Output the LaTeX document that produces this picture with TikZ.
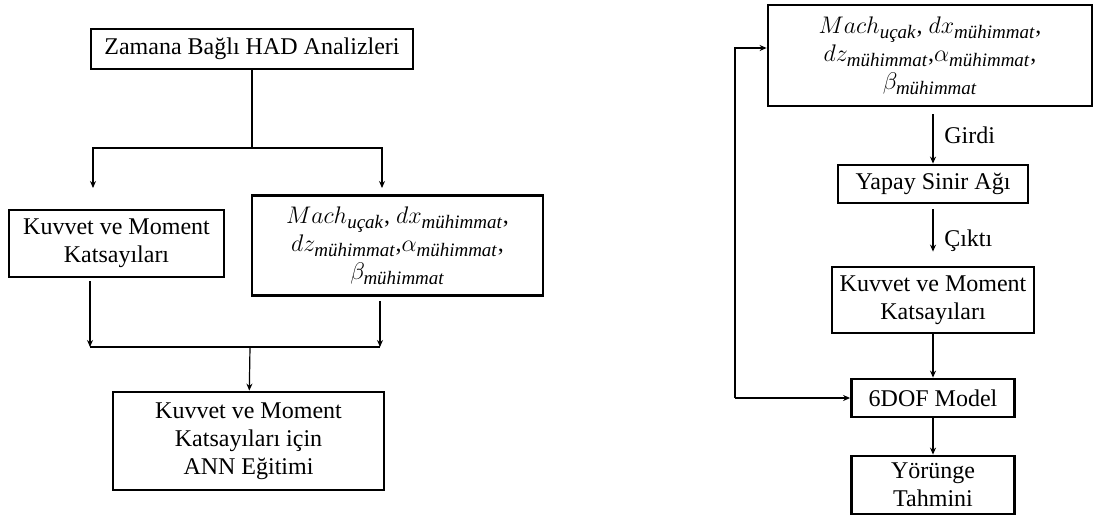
\documentclass[tikz,border=0pt]{standalone}
\usepackage{amsmath}
\usepackage{fontspec}
\setmainfont{Liberation Serif}
\usetikzlibrary{arrows.meta}
\DeclareMathSizes{12}{12.5}{9.5}{7}

\newcommand{\muh}{\textit{mühimmat}}

\tikzset{
  kutu/.style={draw, line width=1.4pt, align=center, inner sep=2pt},
  ok/.style={-{Stealth[length=3.5pt,width=3pt]}, line width=0.6pt},
  cizgi/.style={line width=0.6pt},
}

\begin{document}
\begin{tikzpicture}[x=0.5pt,y=-0.5pt, font=\fontsize{12}{14}\selectfont]
\useasboundingbox (0,0) rectangle (1093,526);

%% Sol taraf: egitim
\node[kutu, minimum width=161pt, minimum height=20pt] (had) at (252,49) {Zamana Bağlı HAD Analizleri};
\node[kutu, minimum width=107.5pt, minimum height=33.5pt] (kuvL) at (116.5,243.5) {Kuvvet ve Moment\\Katsayıları};
\node[kutu, minimum width=145.5pt, minimum height=50pt] (parL) at (397.5,245.5)
  {$Mach_{\textit{uçak}}$, $dx_{\muh}$,\\ $dz_{\muh}$,$\alpha_{\muh}$,\\ $\beta_{\muh}$};
\node[kutu, minimum width=135.5pt, minimum height=49pt] (ann) at (248.5,441) {Kuvvet ve Moment\\Katsayıları için\\ANN Eğitimi};

\coordinate (ayrim) at (252,148);
\coordinate (solgir) at (93,188);
\coordinate (saggir) at (382,188);
\coordinate (solcik) at (90,347);
\coordinate (sagcik) at (380,347);
\coordinate (birles) at (250,347);

\draw[cizgi] (had) -- (ayrim);
\draw[ok] (ayrim) -| (solgir);
\draw[ok] (ayrim) -| (saggir);
\draw[ok, shorten <=1.5pt] (kuvL.south -| solcik) -- (solcik);
\draw[ok, shorten <=2pt] (parL.south -| sagcik) -- (sagcik);
\draw[cizgi] (solcik) -- (sagcik);
\draw[ok] (birles) -- (ann);

%% Sag taraf: tahmin
\node[kutu, minimum width=162pt, minimum height=50.5pt] (parR) at (930,55.5)
  {$Mach_{\textit{uçak}}$, $dx_{\muh}$,\\ $dz_{\muh}$,$\alpha_{\muh}$,\\ $\beta_{\muh}$};
\node[kutu, minimum width=95pt, minimum height=19pt] (ysa) at (933,184) {Yapay Sinir Ağı};
\node[kutu, minimum width=101pt, minimum height=33pt] (kuvR) at (933,300) {Kuvvet ve Moment\\Katsayıları};
\node[kutu, minimum width=81.5pt, minimum height=19pt] (dof) at (933,398) {6DOF Model};
\node[kutu, minimum width=81.5pt, minimum height=29pt] (yor) at (933,485) {Yörünge\\Tahmini};

\draw[ok, shorten <=3.5pt] (parR.south -| ysa.north) -- node[right, xshift=2pt] {Girdi} (ysa);
\draw[ok, shorten <=2.5pt, shorten >=7pt] (ysa) -- node[right, xshift=2pt, pos=0.6] {Çıktı} (kuvR);
\draw[ok] (kuvR) -- (dof);
\draw[ok] (dof) -- (yor);

%% Geri besleme
\coordinate (geri) at (735,398);
\coordinate (geriust) at (735,48);
\draw[ok] (geri) -- (dof.west);
\draw[ok] (geri) -- (geriust) -- (geriust -| parR.west);

\end{tikzpicture}
\end{document}
